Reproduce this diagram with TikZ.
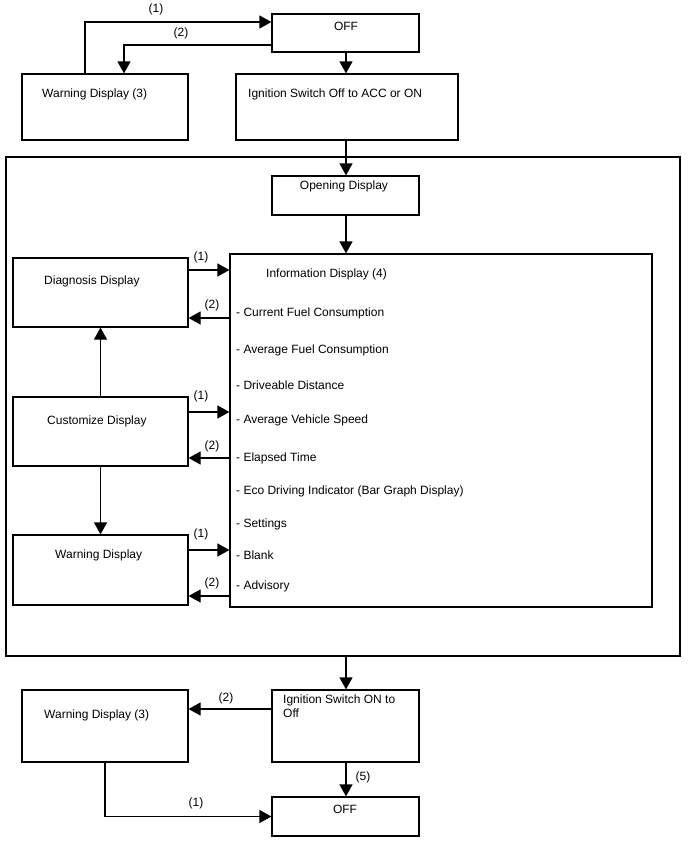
\documentclass[tikz,border=0pt]{standalone}
\usepackage{fontspec}
\setmainfont{Liberation Sans}
\usetikzlibrary{arrows.meta}

\begin{document}
\begin{tikzpicture}[
  x=1pt,
  y=-1pt,
  line join=miter,
  every node/.style={font=\fontsize{12}{14}\selectfont},
  box/.style={draw=black,line width=1.2pt,inner sep=0pt},
  txt/.style={inner sep=0pt,anchor=base west},
  ctxt/.style={inner sep=0pt,anchor=base},
  tag/.style={inner sep=0pt,anchor=base},
  link/.style={draw=black,line width=1.2pt,-{Triangle[length=12pt,width=13pt]}}
]
  \useasboundingbox (0,0) rectangle (688,852);

  % Start-up states above the meter frame.
  \node[box,minimum width=147,minimum height=38] (offTop) at (345.5,33) {};
  \node[box,minimum width=166,minimum height=66] (warnTop) at (105,107) {};
  \node[box,minimum width=222,minimum height=66] (ignOn) at (347,107) {};

  % Meter frame and the displays inside it.
  \node[box,minimum width=674,minimum height=499] (body) at (343,406.5) {};
  \node[box,minimum width=147,minimum height=39] (opening) at (345.5,195.5) {};
  \node[box,minimum width=422,minimum height=353] (info) at (441,430.5) {};
  \node[box,minimum width=175,minimum height=69] (diag) at (100.5,292.5) {};
  \node[box,minimum width=175,minimum height=69] (custom) at (100.5,431.5) {};
  \node[box,minimum width=175,minimum height=70] (warnMid) at (100.5,570) {};

  % Shut-down states below the meter frame.
  \node[box,minimum width=147,minimum height=72] (ignOff) at (345.5,726) {};
  \node[box,minimum width=166,minimum height=72] (warnBot) at (105,726) {};
  \node[box,minimum width=147,minimum height=39] (offBot) at (345.5,816.5) {};

  % Box texts sit near the top edge, not centred.
  \node[ctxt] (offTopTxt) at (346,30) {OFF};
  \node[txt] (warnTopTxt) at (42,97) {Warning Display (3)};
  \node[txt] (ignOnTxt) at (248,97) {Ignition Switch Off to ACC or ON};
  \node[ctxt] (openingTxt) at (344,189) {Opening Display};
  \node[txt] (diagTxt) at (44,284) {Diagnosis Display};
  \node[txt] (customTxt) at (47,424) {Customize Display};
  \node[txt] (warnMidTxt) at (55,558) {Warning Display};
  \node[txt] (ignOffTxt) at (283,703) {Ignition Switch ON to};
  \node[txt] (ignOffTxtB) at (283,717) {Off};
  \node[txt] (warnBotTxt) at (44,718) {Warning Display (3)};
  \node[ctxt] (offBotTxt) at (345,813) {OFF};

  % Information display contents.
  \node[txt] (infoHead) at (266,277) {Information Display (4)};
  \node[txt] (itemA) at (236,316) {- Current Fuel Consumption};
  \node[txt] (itemB) at (236,353) {- Average Fuel Consumption};
  \node[txt] (itemC) at (236,389) {- Driveable Distance};
  \node[txt] (itemD) at (236,423) {- Average Vehicle Speed};
  \node[txt] (itemE) at (236,461) {- Elapsed Time};
  \node[txt] (itemF) at (236,494) {- Eco Driving Indicator (Bar Graph Display)};
  \node[txt] (itemG) at (236,527) {- Settings};
  \node[txt] (itemH) at (236,559) {- Blank};
  \node[txt] (itemI) at (236,589) {- Advisory};

  % Rows and columns the connectors run along.
  \coordinate (topOne) at (85,22);
  \coordinate (topTwo) at (124,45);
  \coordinate (diagIn) at (0,270);
  \coordinate (diagOut) at (0,318);
  \coordinate (custIn) at (0,412);
  \coordinate (custOut) at (0,458);
  \coordinate (warnIn) at (0,550);
  \coordinate (warnOut) at (0,596);
  \coordinate (botTwo) at (0,709);
  \coordinate (mainCol) at (346,0);

  % Start-up transitions.
  \draw[link] (warnTop.north -| topOne) |- (offTop.west |- topOne);
  \draw[link] (offTop.west |- topTwo) -| (warnTop.north -| topTwo);
  \draw[link] (offTop.south -| mainCol) -- (ignOn.north -| mainCol);
  \draw[link] (ignOn.south -| mainCol) -- (opening.north -| mainCol);
  \draw[link] (opening.south -| mainCol) -- (info.north -| mainCol);

  % Switching between the information display and the side displays.
  \draw[link] (diag.east |- diagIn) -- (info.west |- diagIn);
  \draw[link] (info.west |- diagOut) -- (diag.east |- diagOut);
  \draw[link] (custom.east |- custIn) -- (info.west |- custIn);
  \draw[link] (info.west |- custOut) -- (custom.east |- custOut);
  \draw[link] (warnMid.east |- warnIn) -- (info.west |- warnIn);
  \draw[link] (info.west |- warnOut) -- (warnMid.east |- warnOut);
  \draw[link] (custom.north) -- (diag.south);
  \draw[link] (custom.south) -- (warnMid.north);

  % Shut-down transitions.
  \draw[link] (body.south -| mainCol) -- (ignOff.north -| mainCol);
  \draw[link] (ignOff.west |- botTwo) -- (warnBot.east |- botTwo);
  \draw[link] (ignOff.south -| mainCol) -- (offBot.north -| mainCol);
  \draw[link] (warnBot.south) |- (offBot.west);

  % Transition numbers.
  \node[tag] (tagTopOne) at (156,12) {(1)};
  \node[tag] (tagTopTwo) at (181,36) {(2)};
  \node[tag] (tagDiagIn) at (201,260) {(1)};
  \node[tag] (tagDiagOut) at (212,308) {(2)};
  \node[tag] (tagCustIn) at (201,399) {(1)};
  \node[tag] (tagCustOut) at (212,449) {(2)};
  \node[tag] (tagWarnIn) at (201,537) {(1)};
  \node[tag] (tagWarnOut) at (212,586) {(2)};
  \node[tag] (tagBotTwo) at (226,701) {(2)};
  \node[tag] (tagBotFive) at (363,780) {(5)};
  \node[tag] (tagBotOne) at (196,806) {(1)};
\end{tikzpicture}
\end{document}
